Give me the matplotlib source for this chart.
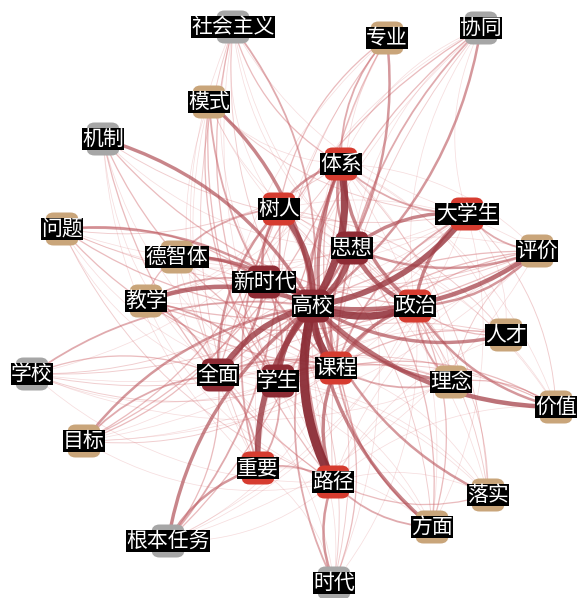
import matplotlib
matplotlib.use("Agg")
import matplotlib.pyplot as plt
from matplotlib.patches import FancyArrowPatch, FancyBboxPatch
from matplotlib.colors import LinearSegmentedColormap

plt.rcParams['font.family'] = ['Noto Sans CJK SC', 'DejaVu Sans']

# node groups (colour class)
maroon_nodes = ['高校', '思想', '新时代', '全面', '学生']
red_nodes = ['体系', '树人', '大学生', '政治', '课程', '路径', '重要']
tan_nodes = ['德智体', '教学', '问题', '模式', '专业', '评价', '人才', '理念',
             '价值', '落实', '方面', '目标']
gray_nodes = ['机制', '社会主义', '协同', '时代', '根本任务', '学校']

# edges: (source, target, weight)
edges = [
    ('高校', '体系', 9), ('高校', '树人', 8), ('高校', '大学生', 8), ('高校', '思想', 8),
    ('高校', '政治', 9), ('高校', '课程', 9), ('高校', '路径', 10), ('高校', '重要', 8),
    ('高校', '全面', 8), ('高校', '学生', 8), ('高校', '新时代', 9), ('高校', '德智体', 6),
    ('高校', '教学', 7), ('高校', '问题', 5), ('高校', '机制', 6), ('高校', '模式', 6),
    ('高校', '社会主义', 4), ('高校', '专业', 5), ('高校', '协同', 5), ('高校', '评价', 7),
    ('高校', '人才', 6), ('高校', '理念', 6), ('高校', '价值', 7), ('高校', '落实', 5),
    ('高校', '方面', 6), ('高校', '时代', 4), ('高校', '根本任务', 6), ('高校', '目标', 5),
    ('高校', '学校', 4),
    ('体系', '树人', 5), ('体系', '思想', 5), ('体系', '政治', 6), ('体系', '大学生', 4),
    ('体系', '课程', 6), ('体系', '路径', 5), ('树人', '德智体', 4), ('树人', '全面', 5),
    ('树人', '新时代', 5), ('树人', '重要', 4), ('大学生', '思想', 6), ('大学生', '政治', 6),
    ('大学生', '评价', 4), ('大学生', '课程', 4), ('思想', '政治', 7), ('思想', '课程', 5),
    ('思想', '评价', 5), ('政治', '课程', 6), ('政治', '价值', 5), ('政治', '理念', 4),
    ('政治', '评价', 5), ('政治', '人才', 3), ('课程', '路径', 6), ('课程', '学生', 5),
    ('课程', '理念', 4), ('课程', '方面', 4), ('课程', '全面', 4), ('路径', '时代', 5),
    ('路径', '重要', 4), ('路径', '方面', 4), ('路径', '落实', 3), ('重要', '根本任务', 5),
    ('重要', '全面', 4), ('重要', '学生', 4), ('全面', '新时代', 5), ('全面', '教学', 4),
    ('全面', '目标', 4), ('全面', '学校', 3), ('学生', '新时代', 4), ('学生', '教学', 4),
    ('新时代', '德智体', 5), ('新时代', '教学', 4), ('新时代', '问题', 3), ('德智体', '教学', 3),
    ('模式', '课程', 4), ('模式', '学生', 3), ('模式', '路径', 3), ('机制', '课程', 3),
    ('机制', '路径', 3), ('机制', '政治', 3), ('社会主义', '体系', 3), ('社会主义', '学生', 3),
    ('社会主义', '重要', 2), ('专业', '体系', 4), ('专业', '课程', 3), ('专业', '树人', 3),
    ('协同', '课程', 4), ('协同', '学生', 3), ('协同', '全面', 3), ('评价', '课程', 3),
    ('评价', '全面', 3), ('评价', '学生', 3), ('人才', '课程', 3), ('人才', '全面', 2),
    ('价值', '课程', 3), ('价值', '理念', 3), ('价值', '全面', 2), ('理念', '学生', 3),
    ('理念', '树人', 2), ('落实', '体系', 2), ('落实', '政治', 2), ('方面', '政治', 3),
    ('方面', '思想', 3), ('时代', '新时代', 2), ('时代', '课程', 3), ('根本任务', '树人', 4),
    ('根本任务', '体系', 3), ('根本任务', '全面', 3), ('目标', '树人', 3), ('目标', '新时代', 3),
    ('目标', '体系', 3), ('学校', '政治', 2), ('学校', '课程', 2), ('学校', '思想', 2),
    ('问题', '政治', 3), ('问题', '课程', 3), ('问题', '体系', 2), ('问题', '评价', 2),
    ('教学', '评价', 3), ('教学', '政治', 3), ('价值', '大学生', 2), ('人才', '树人', 2),
    ('评价', '理念', 2), ('落实', '思想', 2), ('方面', '树人', 2), ('模式', '大学生', 2),
    ('机制', '大学生', 2), ('协同', '路径', 2), ('专业', '学生', 2), ('社会主义', '课程', 2),
    ('时代', '树人', 2), ('目标', '课程', 2), ('学校', '大学生', 2), ('问题', '路径', 2),
    ('德智体', '评价', 2), ('价值', '学生', 2),
    # faint links
    ('社会主义', '政治', 1), ('社会主义', '路径', 1), ('社会主义', '全面', 1), ('社会主义', '思想', 1),
    ('社会主义', '新时代', 1), ('社会主义', '树人', 1), ('社会主义', '大学生', 1),
    ('协同', '体系', 1), ('协同', '思想', 1), ('协同', '政治', 1), ('协同', '重要', 1),
    ('协同', '新时代', 1), ('协同', '大学生', 1), ('专业', '路径', 1), ('专业', '全面', 1),
    ('专业', '重要', 1), ('专业', '思想', 1), ('模式', '政治', 1), ('模式', '全面', 1),
    ('模式', '重要', 1), ('模式', '思想', 1), ('模式', '体系', 1), ('机制', '全面', 1),
    ('机制', '学生', 1), ('机制', '思想', 1), ('机制', '重要', 1), ('问题', '学生', 1),
    ('问题', '大学生', 1), ('问题', '全面', 1), ('问题', '思想', 1), ('学校', '学生', 1),
    ('学校', '路径', 1), ('学校', '体系', 1), ('学校', '理念', 1), ('学校', '评价', 1),
    ('目标', '政治', 1), ('目标', '路径', 1), ('目标', '大学生', 1), ('目标', '评价', 1),
    ('目标', '思想', 1), ('根本任务', '课程', 1), ('根本任务', '政治', 1), ('根本任务', '路径', 1),
    ('根本任务', '大学生', 1), ('根本任务', '评价', 1), ('时代', '全面', 1), ('时代', '政治', 1),
    ('时代', '学生', 1), ('时代', '体系', 1), ('时代', '重要', 1), ('方面', '全面', 1),
    ('方面', '学生', 1), ('方面', '体系', 1), ('方面', '重要', 1), ('方面', '大学生', 1),
    ('落实', '课程', 1), ('落实', '路径', 1), ('落实', '全面', 1), ('落实', '学生', 1),
    ('落实', '树人', 1), ('价值', '思想', 1), ('价值', '体系', 1), ('价值', '路径', 1),
    ('价值', '树人', 1), ('人才', '体系', 1), ('人才', '学生', 1), ('人才', '路径', 1),
    ('人才', '大学生', 1), ('理念', '体系', 1), ('理念', '全面', 1), ('理念', '路径', 1),
    ('理念', '思想', 1), ('评价', '体系', 1), ('评价', '树人', 1), ('评价', '路径', 1),
    ('评价', '新时代', 1), ('教学', '课程', 1), ('教学', '体系', 1), ('教学', '路径', 1),
    ('教学', '大学生', 1), ('教学', '树人', 1), ('德智体', '课程', 1), ('德智体', '政治', 1),
    ('德智体', '全面', 1), ('德智体', '路径', 1), ('德智体', '大学生', 1),
]

# layout (pixel positions of node centres)
pos = {
    '高校': (313, 306), '体系': (341, 164), '树人': (279, 209), '大学生': (467, 214),
    '思想': (352, 248), '政治': (415, 306), '课程': (336, 368), '路径': (333, 482),
    '重要': (258, 468), '全面': (218, 375), '学生': (278, 381), '新时代': (264, 282),
    '德智体': (177, 257), '教学': (146, 301), '问题': (62, 229), '机制': (103, 139),
    '模式': (209, 102), '社会主义': (233, 27), '专业': (387, 38), '协同': (481, 28),
    '评价': (537, 251), '人才': (506, 335), '理念': (451, 382), '价值': (556, 407),
    '落实': (488, 495), '方面': (432, 527), '时代': (334, 583), '根本任务': (168, 541),
    '目标': (84, 441), '学校': (32, 374),
}

node_colors = {}
for n in maroon_nodes:
    node_colors[n] = '#8e2b34'
for n in red_nodes:
    node_colors[n] = '#d63c30'
for n in tan_nodes:
    node_colors[n] = '#c9a57a'
for n in gray_nodes:
    node_colors[n] = '#a6a6a6'

edge_cmap = LinearSegmentedColormap.from_list('edges', ['#eea3a3', '#d06a70', '#8b2c35'])

fig = plt.figure(figsize=(5.79, 5.98), dpi=100)
ax = fig.add_axes([0, 0, 1, 1])
ax.set_xlim(0, 579)
ax.set_ylim(598, 0)
ax.axis('off')

for s, t, w in sorted(edges, key=lambda e: e[2]):
    f = w / 10
    arc = FancyArrowPatch(pos[s], pos[t], arrowstyle='-',
                          connectionstyle='arc3,rad=0.2',
                          color=edge_cmap(f ** 0.6), alpha=0.15 + 0.8 * f ** 0.8,
                          linewidth=0.5 + 6 * f ** 2.2,
                          shrinkA=0, shrinkB=0, zorder=1)
    ax.add_patch(arc)

node_w = 33
r = 8
for n, (x, y) in pos.items():
    box = FancyBboxPatch((x - node_w / 2 + r, y - node_w / 2 + r),
                         node_w - 2 * r, node_w - 2 * r,
                         boxstyle=f'round,pad={r}',
                         facecolor=node_colors[n], edgecolor='none', zorder=2)
    ax.add_patch(box)
    ax.text(x, y, n, ha='center', va='center', fontsize=15, color='white',
            zorder=3, bbox=dict(facecolor='black', edgecolor='none', pad=0.3))

fig.savefig('out.png', dpi=100)
